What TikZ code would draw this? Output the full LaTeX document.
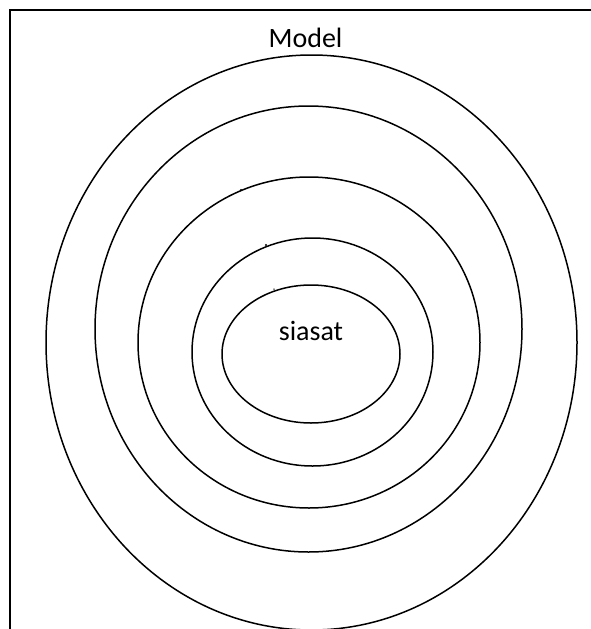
\documentclass[tikz,border=0pt]{standalone}
\usepackage{fontspec}
\setmainfont{Carlito}
\usetikzlibrary{shapes.geometric}
\begin{document}
\begin{tikzpicture}[x=1pt,y=-1pt,
  ring/.style={ellipse,draw,line width=1.5pt,inner sep=0pt},
  label/.style={font=\fontsize{28}{32}\selectfont,inner sep=0pt,anchor=base},
  speck/.style={circle,fill,inner sep=0pt,minimum size=2.2pt}]
\useasboundingbox (0,0) rectangle (591,629);
\clip (0,0) rectangle (591,629);
\draw[line width=2pt] (10,660) -- (10,10) -- (620,10);
\node[ring,minimum width=531pt,minimum height=575pt] (r1) at (311.5,342.5) {};
\node[ring,minimum width=427pt,minimum height=446pt] (r2) at (308.5,329) {};
\node[ring,minimum width=342pt,minimum height=331pt] (r3) at (309,342.5) {};
\node[ring,minimum width=241pt,minimum height=228pt] (r4) at (312.5,352) {};
\node[ring,minimum width=178pt,minimum height=138pt] (r5) at (311,354) {};
\node[label] (model) at (305.5,47) {Model};
\node[label] (siasat) at (311,340) {siasat};
\node[speck] (d1) at (241,190) {};
\node[speck] (d2) at (266,245) {};
\node[speck,minimum size=1.5pt] (d3) at (274,289) {};
\end{tikzpicture}
\end{document}
